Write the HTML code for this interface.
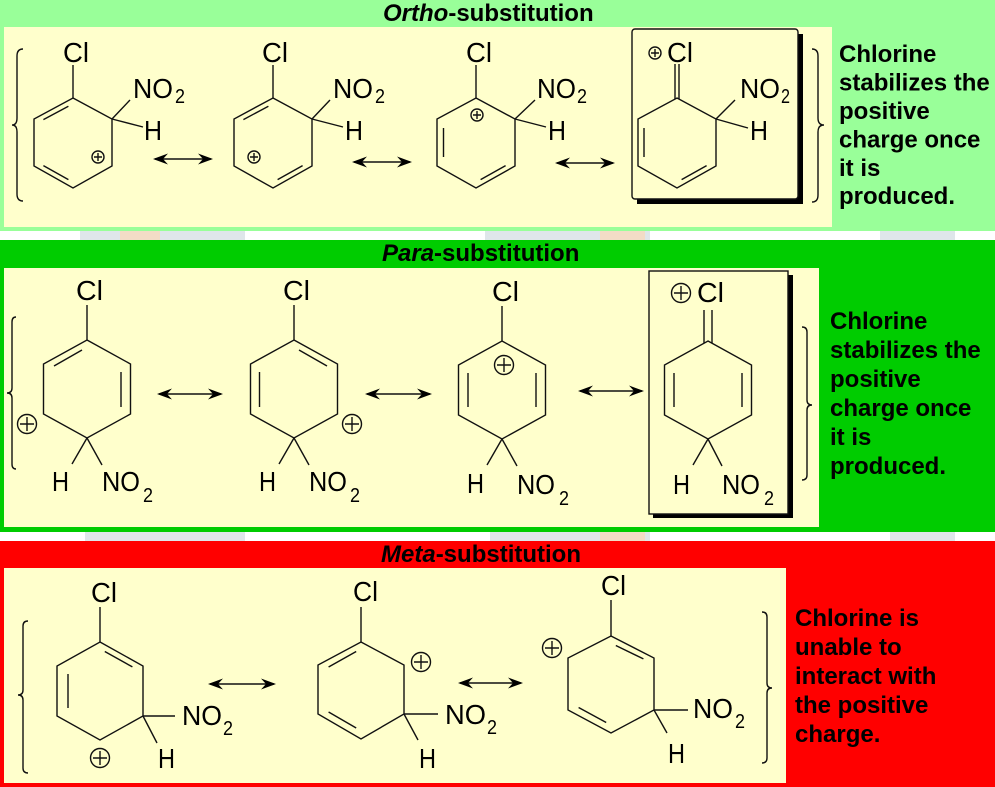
<!DOCTYPE html>
<html><head><meta charset="utf-8"><style>
html,body{margin:0;padding:0;background:#fff;}
svg{display:block;}
.c{font-family:"Liberation Sans",Arial,sans-serif;font-size:28px;fill:#000;}
.s{font-family:"Liberation Sans",Arial,sans-serif;font-size:20px;fill:#000;}
.t{font-family:"Liberation Sans",Arial,sans-serif;font-size:24px;font-weight:bold;fill:#000;}
.b{fill:none;stroke:#111;stroke-width:1.4;}
.r{fill:none;stroke:#111;stroke-width:1.4;stroke-linejoin:miter;}
</style></head><body>
<svg width="995" height="787" viewBox="0 0 995 787" xmlns="http://www.w3.org/2000/svg">
<defs>
<g id="ah"><polygon points="0,0 15,-5.5 10,0 15,5.5" fill="#000"/></g>
</defs>
<!-- backgrounds -->
<rect x="0" y="0" width="995" height="787" fill="#fff"/>
<rect x="0" y="0" width="995" height="231" fill="#99ff99"/>
<rect x="80" y="231" width="165" height="9" fill="#dfe6ea"/>
<rect x="120" y="231" width="40" height="9" fill="#f3dcc6"/>
<rect x="485" y="231" width="165" height="9" fill="#dfe6ea"/>
<rect x="600" y="231" width="45" height="9" fill="#f3dcc6"/>
<rect x="880" y="231" width="75" height="9" fill="#dfe6ea"/>
<rect x="0" y="240" width="995" height="292" fill="#00cc00"/>
<rect x="85" y="532" width="160" height="9" fill="#dfe6ea"/>
<rect x="490" y="532" width="160" height="9" fill="#dfe6ea"/>
<rect x="600" y="532" width="45" height="9" fill="#f3dcc6"/>
<rect x="890" y="532" width="65" height="9" fill="#dfe6ea"/>
<rect x="0" y="541" width="995" height="246" fill="#ff0000"/>
<rect x="4" y="27" width="828" height="200" fill="#ffffcc"/>
<rect x="4" y="268" width="815" height="259" fill="#ffffcc"/>
<rect x="4" y="568" width="782" height="215" fill="#ffffcc"/>

<!-- titles -->
<text class="t" x="383" y="21"><tspan font-style="italic">Ortho</tspan>-substitution</text>
<text class="t" x="382" y="261"><tspan font-style="italic">Para</tspan>-substitution</text>
<text class="t" x="381" y="562"><tspan font-style="italic">Meta</tspan>-substitution</text>

<!-- ============ ORTHO ============ -->
<path class="b" d="M23,49 Q17,49 17,56 L17,118 Q17,125 12,125 Q17,125 17,132 L17,194 Q17,201 23,201"/>
<path class="b" d="M812,49 Q818,49 818,56 L818,118 Q818,125 824,125 Q818,125 818,132 L818,195 Q818,202 812,202"/>

<!-- ring 1 -->
<polygon class="r" points="73,98 112,119 112,166 73,188 34,166 34,119"/>
<line class="b" x1="43.4" y1="119.6" x2="68.4" y2="106.2"/>
<line class="b" x1="43.4" y1="165.6" x2="68.4" y2="179.6"/>
<line class="b" x1="73" y1="65" x2="73" y2="98"/>
<line class="b" x1="112" y1="119" x2="130" y2="100"/>
<line class="b" x1="112" y1="119" x2="143" y2="127"/>
<text class="c" x="63" y="62" textLength="26" lengthAdjust="spacingAndGlyphs">Cl</text>
<text class="c" x="133" y="98" textLength="40" lengthAdjust="spacingAndGlyphs">NO</text><text class="s" x="175" y="103" textLength="10" lengthAdjust="spacingAndGlyphs">2</text>
<text class="c" x="144" y="140" textLength="18" lengthAdjust="spacingAndGlyphs">H</text>
<circle class="b" cx="98" cy="157" r="6"/><path class="b" d="M94,157 H102 M98,153 V161"/>

<!-- ring 2 -->
<polygon class="r" points="273,98 312,119 312,166 273,188 234,166 234,119"/>
<line class="b" x1="243.4" y1="119.6" x2="268.4" y2="106.2"/>
<line class="b" x1="277.6" y1="179.6" x2="302.6" y2="165.6"/>
<line class="b" x1="273" y1="65" x2="273" y2="98"/>
<line class="b" x1="312" y1="119" x2="330" y2="100"/>
<line class="b" x1="312" y1="119" x2="343" y2="127"/>
<text class="c" x="262" y="62" textLength="26" lengthAdjust="spacingAndGlyphs">Cl</text>
<text class="c" x="333" y="98" textLength="40" lengthAdjust="spacingAndGlyphs">NO</text><text class="s" x="375" y="103" textLength="10" lengthAdjust="spacingAndGlyphs">2</text>
<text class="c" x="345" y="140" textLength="18" lengthAdjust="spacingAndGlyphs">H</text>
<circle class="b" cx="254" cy="157" r="6"/><path class="b" d="M250,157 H258 M254,153 V161"/>

<!-- ring 3 -->
<polygon class="r" points="476,98 515,119 515,166 476,188 437,166 437,119"/>
<line class="b" x1="443.5" y1="128" x2="443.5" y2="157"/>
<line class="b" x1="480.6" y1="179.6" x2="505.6" y2="165.6"/>
<line class="b" x1="476" y1="65" x2="476" y2="98"/>
<line class="b" x1="515" y1="119" x2="535" y2="100"/>
<line class="b" x1="515" y1="119" x2="546" y2="127"/>
<text class="c" x="466" y="62" textLength="26" lengthAdjust="spacingAndGlyphs">Cl</text>
<text class="c" x="537" y="98" textLength="39" lengthAdjust="spacingAndGlyphs">NO</text><text class="s" x="577" y="103" textLength="10" lengthAdjust="spacingAndGlyphs">2</text>
<text class="c" x="548" y="140" textLength="18" lengthAdjust="spacingAndGlyphs">H</text>
<circle class="b" cx="477" cy="115" r="6"/><path class="b" d="M473,115 H481 M477,111 V119"/>

<!-- box 4 -->
<rect x="637" y="34" width="166" height="170" fill="#000"/>
<rect x="632" y="29" width="166" height="170" rx="3" fill="#ffffcc" stroke="#111" stroke-width="1.4"/>
<polygon class="r" points="677,98 716,119 716,166 677,188 638,166 638,119"/>
<line class="b" x1="644" y1="128" x2="644" y2="157"/>
<line class="b" x1="681.6" y1="179.6" x2="706.6" y2="165.6"/>
<line class="b" x1="675" y1="64" x2="675" y2="99"/>
<line class="b" x1="679" y1="64" x2="679" y2="99"/>
<line class="b" x1="716" y1="119" x2="735" y2="100"/>
<line class="b" x1="716" y1="119" x2="748" y2="128"/>
<text class="c" x="667" y="62" textLength="26" lengthAdjust="spacingAndGlyphs">Cl</text>
<circle class="b" cx="655" cy="53" r="6"/><path class="b" d="M651,53 H659 M655,49 V57"/>
<text class="c" x="740" y="98" textLength="40" lengthAdjust="spacingAndGlyphs">NO</text><text class="s" x="781" y="103" textLength="9" lengthAdjust="spacingAndGlyphs">2</text>
<text class="c" x="750" y="140" textLength="18" lengthAdjust="spacingAndGlyphs">H</text>

<!-- arrows ortho -->
<line class="b" x1="155" y1="159" x2="211" y2="159"/><use href="#ah" x="153" y="159"/><use href="#ah" transform="translate(213,159) scale(-1,1)"/>
<line class="b" x1="354" y1="162" x2="410" y2="162"/><use href="#ah" x="352" y="162"/><use href="#ah" transform="translate(412,162) scale(-1,1)"/>
<line class="b" x1="557" y1="163" x2="613" y2="163"/><use href="#ah" x="555" y="163"/><use href="#ah" transform="translate(615,163) scale(-1,1)"/>

<text class="t" x="839" y="62">Chlorine</text>
<text class="t" x="839" y="90.5">stabilizes the</text>
<text class="t" x="839" y="119">positive</text>
<text class="t" x="839" y="147.5">charge once</text>
<text class="t" x="839" y="176">it is</text>
<text class="t" x="839" y="204">produced.</text>

<!-- ============ PARA ============ -->
<path class="b" d="M16,317 Q12,317 12,322 L12,388 Q12,393 7,393 Q12,393 12,398 L12,464 Q12,469 16,469"/>
<path class="b" d="M802,327 Q807,327 807,332 L807,400 Q807,405 812,405 Q807,405 807,410 L807,475 Q807,480 802,480"/>

<!-- ring 1 -->
<polygon class="r" points="87,340 130.5,364 130.5,414 87,438 43.5,414 43.5,364"/>
<line class="b" x1="54" y1="366" x2="82" y2="350"/>
<line class="b" x1="121" y1="372" x2="121" y2="407"/>
<line class="b" x1="87" y1="305" x2="87" y2="340"/>
<line class="b" x1="87" y1="438" x2="72" y2="464"/>
<line class="b" x1="87" y1="438" x2="102" y2="465"/>
<text class="c" x="76" y="300" textLength="27" lengthAdjust="spacingAndGlyphs">Cl</text>
<text class="c" x="52" y="491" textLength="17" lengthAdjust="spacingAndGlyphs">H</text>
<text class="c" x="102" y="491" textLength="38" lengthAdjust="spacingAndGlyphs">NO</text><text class="s" x="143" y="502" textLength="10" lengthAdjust="spacingAndGlyphs">2</text>
<circle class="b" cx="27" cy="424" r="9.5"/><path class="b" d="M20,424 H34 M27,417 V431"/>

<!-- ring 2 -->
<polygon class="r" points="294,340 337.5,364 337.5,414 294,438 250.5,414 250.5,364"/>
<line class="b" x1="259.5" y1="372" x2="259.5" y2="407"/>
<line class="b" x1="299" y1="350" x2="327" y2="366"/>
<line class="b" x1="294" y1="305" x2="294" y2="340"/>
<line class="b" x1="294" y1="438" x2="279" y2="464"/>
<line class="b" x1="294" y1="438" x2="309" y2="465"/>
<text class="c" x="283" y="300" textLength="27" lengthAdjust="spacingAndGlyphs">Cl</text>
<text class="c" x="259" y="491" textLength="17" lengthAdjust="spacingAndGlyphs">H</text>
<text class="c" x="309" y="491" textLength="38" lengthAdjust="spacingAndGlyphs">NO</text><text class="s" x="350" y="502" textLength="10" lengthAdjust="spacingAndGlyphs">2</text>
<circle class="b" cx="352" cy="424" r="9.5"/><path class="b" d="M345,424 H359 M352,417 V431"/>

<!-- ring 3 -->
<polygon class="r" points="502,341 545.5,365 545.5,415 502,439 458.5,415 458.5,365"/>
<line class="b" x1="468" y1="373" x2="468" y2="407"/>
<line class="b" x1="536" y1="373" x2="536" y2="407"/>
<line class="b" x1="502" y1="306" x2="502" y2="341"/>
<line class="b" x1="502" y1="439" x2="487" y2="465"/>
<line class="b" x1="502" y1="439" x2="517" y2="466"/>
<text class="c" x="492" y="301" textLength="27" lengthAdjust="spacingAndGlyphs">Cl</text>
<text class="c" x="467" y="493" textLength="17" lengthAdjust="spacingAndGlyphs">H</text>
<text class="c" x="517" y="494" textLength="38" lengthAdjust="spacingAndGlyphs">NO</text><text class="s" x="559" y="505" textLength="10" lengthAdjust="spacingAndGlyphs">2</text>
<circle class="b" cx="504" cy="365" r="9.5"/><path class="b" d="M497,365 H511 M504,358 V372"/>

<!-- box 4 para -->
<rect x="653" y="275" width="140" height="243" fill="#000"/>
<rect x="649" y="271" width="139" height="243" fill="#ffffcc" stroke="#111" stroke-width="1.4"/>
<polygon class="r" points="708,341 751.5,365 751.5,415 708,439 664.5,415 664.5,365"/>
<line class="b" x1="674" y1="373" x2="674" y2="407"/>
<line class="b" x1="742" y1="373" x2="742" y2="407"/>
<line class="b" x1="704" y1="310" x2="704" y2="343"/>
<line class="b" x1="712" y1="310" x2="712" y2="343"/>
<line class="b" x1="708" y1="439" x2="693" y2="465"/>
<line class="b" x1="708" y1="439" x2="722" y2="466"/>
<text class="c" x="697" y="302" textLength="27" lengthAdjust="spacingAndGlyphs">Cl</text>
<circle class="b" cx="681" cy="293" r="9.5"/><path class="b" d="M674,293 H688 M681,286 V300"/>
<text class="c" x="673" y="494" textLength="17" lengthAdjust="spacingAndGlyphs">H</text>
<text class="c" x="722" y="494" textLength="38" lengthAdjust="spacingAndGlyphs">NO</text><text class="s" x="764" y="505" textLength="10" lengthAdjust="spacingAndGlyphs">2</text>

<!-- arrows para -->
<line class="b" x1="159" y1="394" x2="221" y2="394"/><use href="#ah" x="157" y="394"/><use href="#ah" transform="translate(223,394) scale(-1,1)"/>
<line class="b" x1="367" y1="394" x2="430" y2="394"/><use href="#ah" x="365" y="394"/><use href="#ah" transform="translate(432,394) scale(-1,1)"/>
<line class="b" x1="580" y1="391" x2="642" y2="391"/><use href="#ah" x="578" y="391"/><use href="#ah" transform="translate(644,391) scale(-1,1)"/>

<text class="t" x="830" y="329">Chlorine</text>
<text class="t" x="830" y="358">stabilizes the</text>
<text class="t" x="830" y="387">positive</text>
<text class="t" x="830" y="416">charge once</text>
<text class="t" x="830" y="445">it is</text>
<text class="t" x="830" y="474">produced.</text>

<!-- ============ META ============ -->
<path class="b" d="M28,621 Q23,621 23,626 L23,690 Q23,695 18,695 Q23,695 23,700 L23,768 Q23,773 28,773"/>
<path class="b" d="M762,612 Q767,612 767,617 L767,683 Q767,688 772,688 Q767,688 767,693 L767,758 Q767,763 762,763"/>

<!-- ring 1 -->
<polygon class="r" points="100,642 143,666 143,716 100,740 57,716 57,666"/>
<line class="b" x1="104.8" y1="651.5" x2="132.4" y2="666.9"/>
<line class="b" x1="68" y1="674" x2="68" y2="708"/>
<line class="b" x1="100" y1="607" x2="100" y2="642"/>
<line class="b" x1="143" y1="716" x2="175" y2="716"/>
<line class="b" x1="143" y1="716" x2="157" y2="743"/>
<text class="c" x="91" y="602" textLength="26" lengthAdjust="spacingAndGlyphs">Cl</text>
<text class="c" x="182" y="725" textLength="40" lengthAdjust="spacingAndGlyphs">NO</text><text class="s" x="223" y="735" textLength="10" lengthAdjust="spacingAndGlyphs">2</text>
<text class="c" x="158" y="768" textLength="17" lengthAdjust="spacingAndGlyphs">H</text>
<circle class="b" cx="100" cy="758" r="9.5"/><path class="b" d="M93,758 H107 M100,751 V765"/>

<!-- ring 2 -->
<polygon class="r" points="361,642 404,665 404,714 361,739 318,714 318,665"/>
<line class="b" x1="328.6" y1="667" x2="356.2" y2="651.5"/>
<line class="b" x1="328.6" y1="712" x2="356.2" y2="728"/>
<line class="b" x1="361" y1="607" x2="361" y2="642"/>
<line class="b" x1="404" y1="714" x2="438" y2="714"/>
<line class="b" x1="404" y1="714" x2="418" y2="740"/>
<text class="c" x="353" y="601" textLength="25" lengthAdjust="spacingAndGlyphs">Cl</text>
<text class="c" x="445" y="724" textLength="41" lengthAdjust="spacingAndGlyphs">NO</text><text class="s" x="487" y="734" textLength="10" lengthAdjust="spacingAndGlyphs">2</text>
<text class="c" x="419" y="768" textLength="17" lengthAdjust="spacingAndGlyphs">H</text>
<circle class="b" cx="421" cy="662" r="9.5"/><path class="b" d="M414,662 H428 M421,655 V669"/>

<!-- ring 3 -->
<polygon class="r" points="611,636 654,658 654,710 611,733 568,710 568,658"/>
<line class="b" x1="615.8" y1="645.5" x2="643.4" y2="658.9"/>
<line class="b" x1="578.6" y1="707.5" x2="606.2" y2="722.5"/>
<line class="b" x1="611" y1="600" x2="611" y2="636"/>
<line class="b" x1="654" y1="710" x2="688" y2="710"/>
<line class="b" x1="654" y1="710" x2="667" y2="733"/>
<text class="c" x="601" y="595" textLength="25" lengthAdjust="spacingAndGlyphs">Cl</text>
<text class="c" x="693" y="718" textLength="40" lengthAdjust="spacingAndGlyphs">NO</text><text class="s" x="735" y="728" textLength="10" lengthAdjust="spacingAndGlyphs">2</text>
<text class="c" x="668" y="763" textLength="17" lengthAdjust="spacingAndGlyphs">H</text>
<circle class="b" cx="552" cy="648" r="9.5"/><path class="b" d="M545,648 H559 M552,641 V655"/>

<!-- arrows meta -->
<line class="b" x1="210" y1="684" x2="274" y2="684"/><use href="#ah" x="208" y="684"/><use href="#ah" transform="translate(276,684) scale(-1,1)"/>
<line class="b" x1="460" y1="683" x2="521" y2="683"/><use href="#ah" x="458" y="683"/><use href="#ah" transform="translate(523,683) scale(-1,1)"/>

<text class="t" x="795" y="626">Chlorine is</text>
<text class="t" x="795" y="655">unable to</text>
<text class="t" x="795" y="684">interact with</text>
<text class="t" x="795" y="713">the positive</text>
<text class="t" x="795" y="742">charge.</text>
</svg>
</body></html>
